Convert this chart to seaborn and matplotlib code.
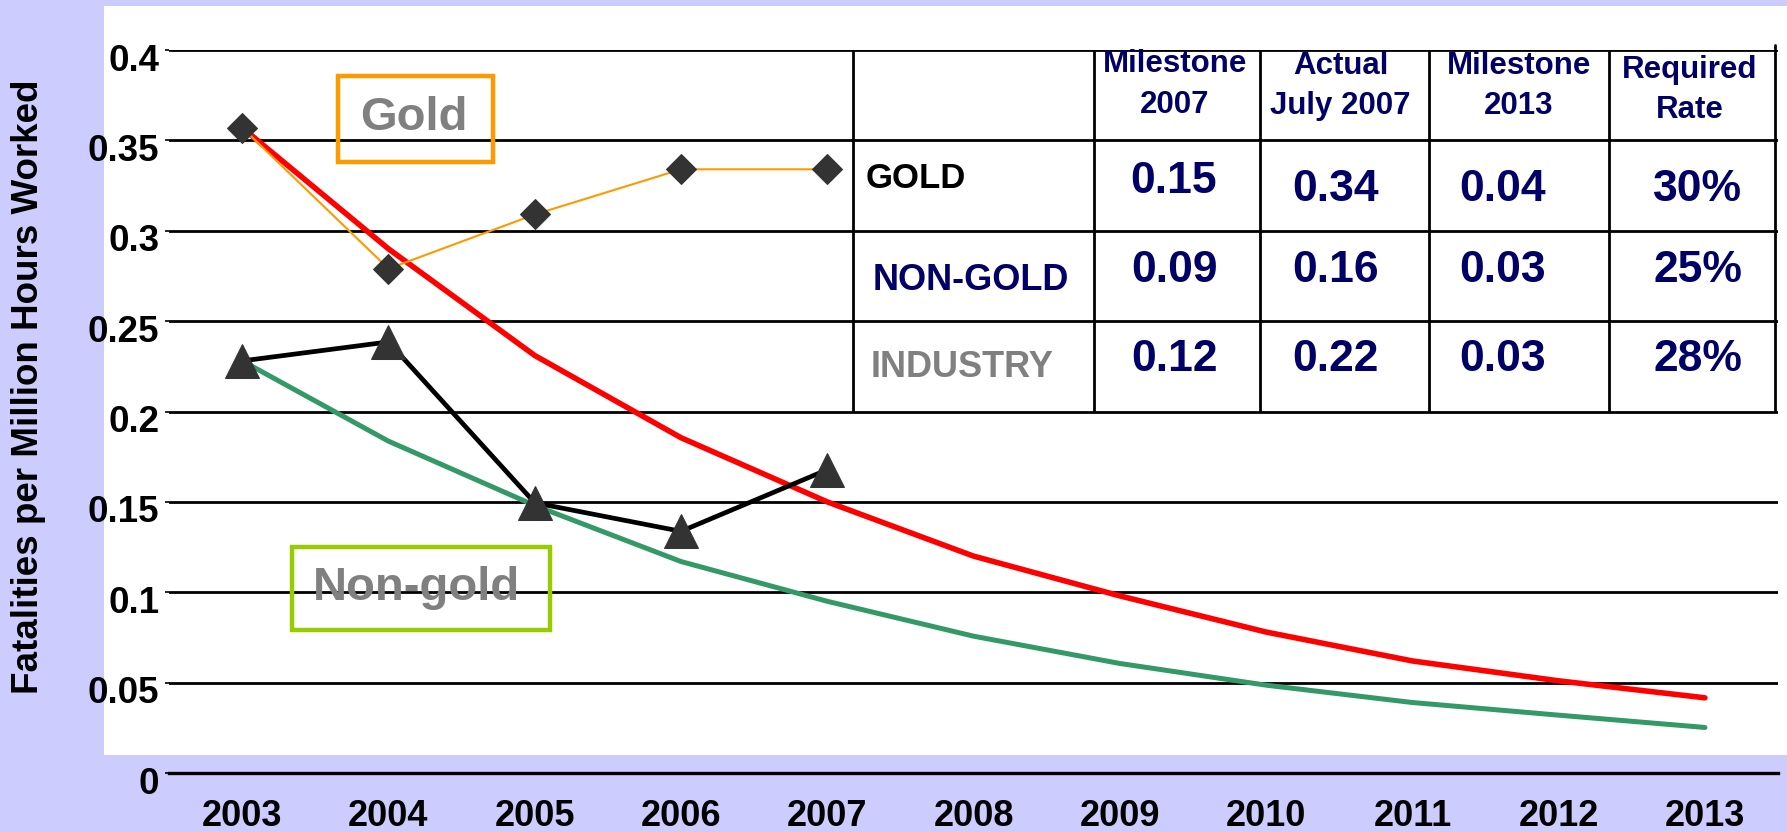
import matplotlib
matplotlib.use("Agg")
import matplotlib.pyplot as plt
import matplotlib.transforms as mtransforms
from matplotlib.patches import Rectangle
import pandas as pd
import seaborn as sns

# --- data ---
years = list(range(2003, 2014))
gold_target = [0.357, 0.290, 0.231, 0.1855, 0.150, 0.120, 0.098, 0.078, 0.062, 0.051, 0.0416]
nongold_target = [0.228, 0.1836, 0.148, 0.117, 0.095, 0.0757, 0.0606, 0.0486, 0.039, 0.032, 0.0252]

actual_years = [2003, 2004, 2005, 2006, 2007]
gold_actual = [0.357, 0.279, 0.309, 0.334, 0.334]
nongold_actual = [0.228, 0.2385, 0.1495, 0.1337, 0.1678]

y_ticks = [0, 0.05, 0.1, 0.15, 0.2, 0.25, 0.3, 0.35, 0.4]
y_tick_labels = ["0", "0.05", "0.1", "0.15", "0.2", "0.25", "0.3", "0.35", "0.4"]

table_header = ["Milestone\n2007", "Actual\nJuly 2007", "Milestone\n2013", "Required\nRate"]
table_rows = ["GOLD", "NON-GOLD", "INDUSTRY"]
table_values = [
    ["0.15", "0.34", "0.04", "30%"],
    ["0.09", "0.16", "0.03", "25%"],
    ["0.12", "0.22", "0.03", "28%"],
]

targets = pd.DataFrame({"year": years, "gold": gold_target, "nongold": nongold_target})
actuals = pd.DataFrame({"year": actual_years, "gold": gold_actual, "nongold": nongold_actual})

# --- figure ---
sns.set_style("white")
plt.rcParams["font.family"] = ["Liberation Sans", "DejaVu Sans"]
plt.rcParams["font.weight"] = "bold"
plt.rcParams["text.color"] = "black"
plt.rcParams["xtick.color"] = "black"
plt.rcParams["ytick.color"] = "black"

LAV = "#CCCCFF"
NAVY = "#000066"
GREY = "#808080"

fig = plt.figure(figsize=(17.87, 8.32), dpi=100, facecolor=LAV)
fig.patches.append(Rectangle((0.058, 0.0925), 0.942, 0.90, transform=fig.transFigure,
                             facecolor="white", edgecolor="none", zorder=-5))
ax = fig.add_axes([0.0946, 0.0709, 0.9004, 0.869])
ax.set_facecolor("none")

sns.lineplot(data=targets, x="year", y="nongold", ax=ax, color="#339966", lw=3.6, zorder=3)
sns.lineplot(data=targets, x="year", y="gold", ax=ax, color="#FF0000", lw=4.0, zorder=4)
sns.lineplot(data=actuals, x="year", y="gold", ax=ax, color="#FF9900", lw=1.5, zorder=5,
             marker="D", markersize=15, markerfacecolor="#333333", markeredgecolor="#333333")
sns.lineplot(data=actuals, x="year", y="nongold", ax=ax, color="black", lw=3.4, zorder=5,
             marker="^", markersize=24, markerfacecolor="#333333", markeredgecolor="#333333")

ax.set_xlim(2002.5, 2013.5)
ax.set_ylim(0, 0.4)
ax.set_xticks(years)
ax.set_xticklabels([str(y) for y in years], fontsize=26, fontweight="bold")
ax.set_xticks([y - 0.5 for y in years] + [2013.5], minor=True)
ax.tick_params(axis="x", which="major", length=0, pad=19)
ax.tick_params(axis="x", which="minor", length=6, width=1.5, direction="out", color="black")
ax.set_yticks(y_ticks)
ax.set_yticklabels(y_tick_labels, fontsize=26.5, fontweight="bold")
ax.tick_params(axis="y", length=3, width=1.2, pad=4, color="black", left=True)
offset = mtransforms.ScaledTranslation(0, -0.07, fig.dpi_scale_trans)
for lbl in ax.get_yticklabels():
    lbl.set_transform(lbl.get_transform() + offset)

ax.yaxis.grid(True, color="black", lw=2.0)
ax.set_axisbelow(True)
for s in ["left", "right", "top"]:
    ax.spines[s].set_visible(False)
ax.spines["bottom"].set_color("black")
ax.spines["bottom"].set_linewidth(2.4)
ax.set_xlabel("")
ax.set_ylabel("")

fig.text(0.016, 0.5355, "Fatalities per Million Hours Worked", rotation=90,
         ha="center", va="center", fontsize=26.5, fontweight="bold")

# --- callout boxes ---
tr = ax.get_yaxis_transform()
ax.add_patch(Rectangle((0.1048, 0.338), 0.0963, 0.0475, transform=tr, fill=False,
                       edgecolor="#FF9900", lw=3.2, zorder=6))
ax.text(0.152, 0.3625, "Gold", transform=tr, ha="center", va="center",
        fontsize=34, fontweight="bold", color=GREY, zorder=6)
ax.add_patch(Rectangle((0.0765, 0.0789), 0.160, 0.046, transform=tr, fill=False,
                       edgecolor="#99CC00", lw=3.2, zorder=6))
ax.text(0.154, 0.1025, "Non-gold", transform=tr, ha="center", va="center",
        fontsize=34, fontweight="bold", color=GREY, zorder=6)

# --- milestone table ---
col_edges = [0.425, 0.575, 0.678, 0.783, 0.895, 0.998]
ax.vlines(col_edges, 0.2, 0.4, transform=tr, color="black", lw=2.0, zorder=6)
ax.plot([0.998, 0.998], [0.4, 0.403], transform=tr, color="black", lw=2.0, clip_on=False)

header_x = [0.625, 0.728, 0.839, 0.945]
header_y = [0.381, 0.380, 0.380, 0.378]
value_x = [0.6246, 0.725, 0.8286, 0.950]
value_y = [[0.327, 0.3226, 0.3226, 0.3226],
           [0.278, 0.278, 0.278, 0.278],
           [0.229, 0.229, 0.229, 0.229]]
label_x = [0.433, 0.437, 0.436]
label_y = [0.329, 0.2726, 0.2246]
label_colors = ["black", NAVY, GREY]
label_sizes = [25, 26, 26]

for hx, hy, h in zip(header_x, header_y, table_header):
    ax.text(hx, hy, h, transform=tr, ha="center", va="center", fontsize=22.5,
            fontweight="bold", color=NAVY, linespacing=1.45, zorder=7)

for i, name in enumerate(table_rows):
    ax.text(label_x[i], label_y[i], name, transform=tr, ha="left", va="center",
            fontsize=label_sizes[i], fontweight="bold", color=label_colors[i], zorder=7)
    for j, v in enumerate(table_values[i]):
        ax.text(value_x[j], value_y[i][j], v, transform=tr, ha="center", va="center",
                fontsize=32, fontweight="bold", color=NAVY, zorder=7)

fig.savefig("out.png", dpi=100, facecolor=LAV)
